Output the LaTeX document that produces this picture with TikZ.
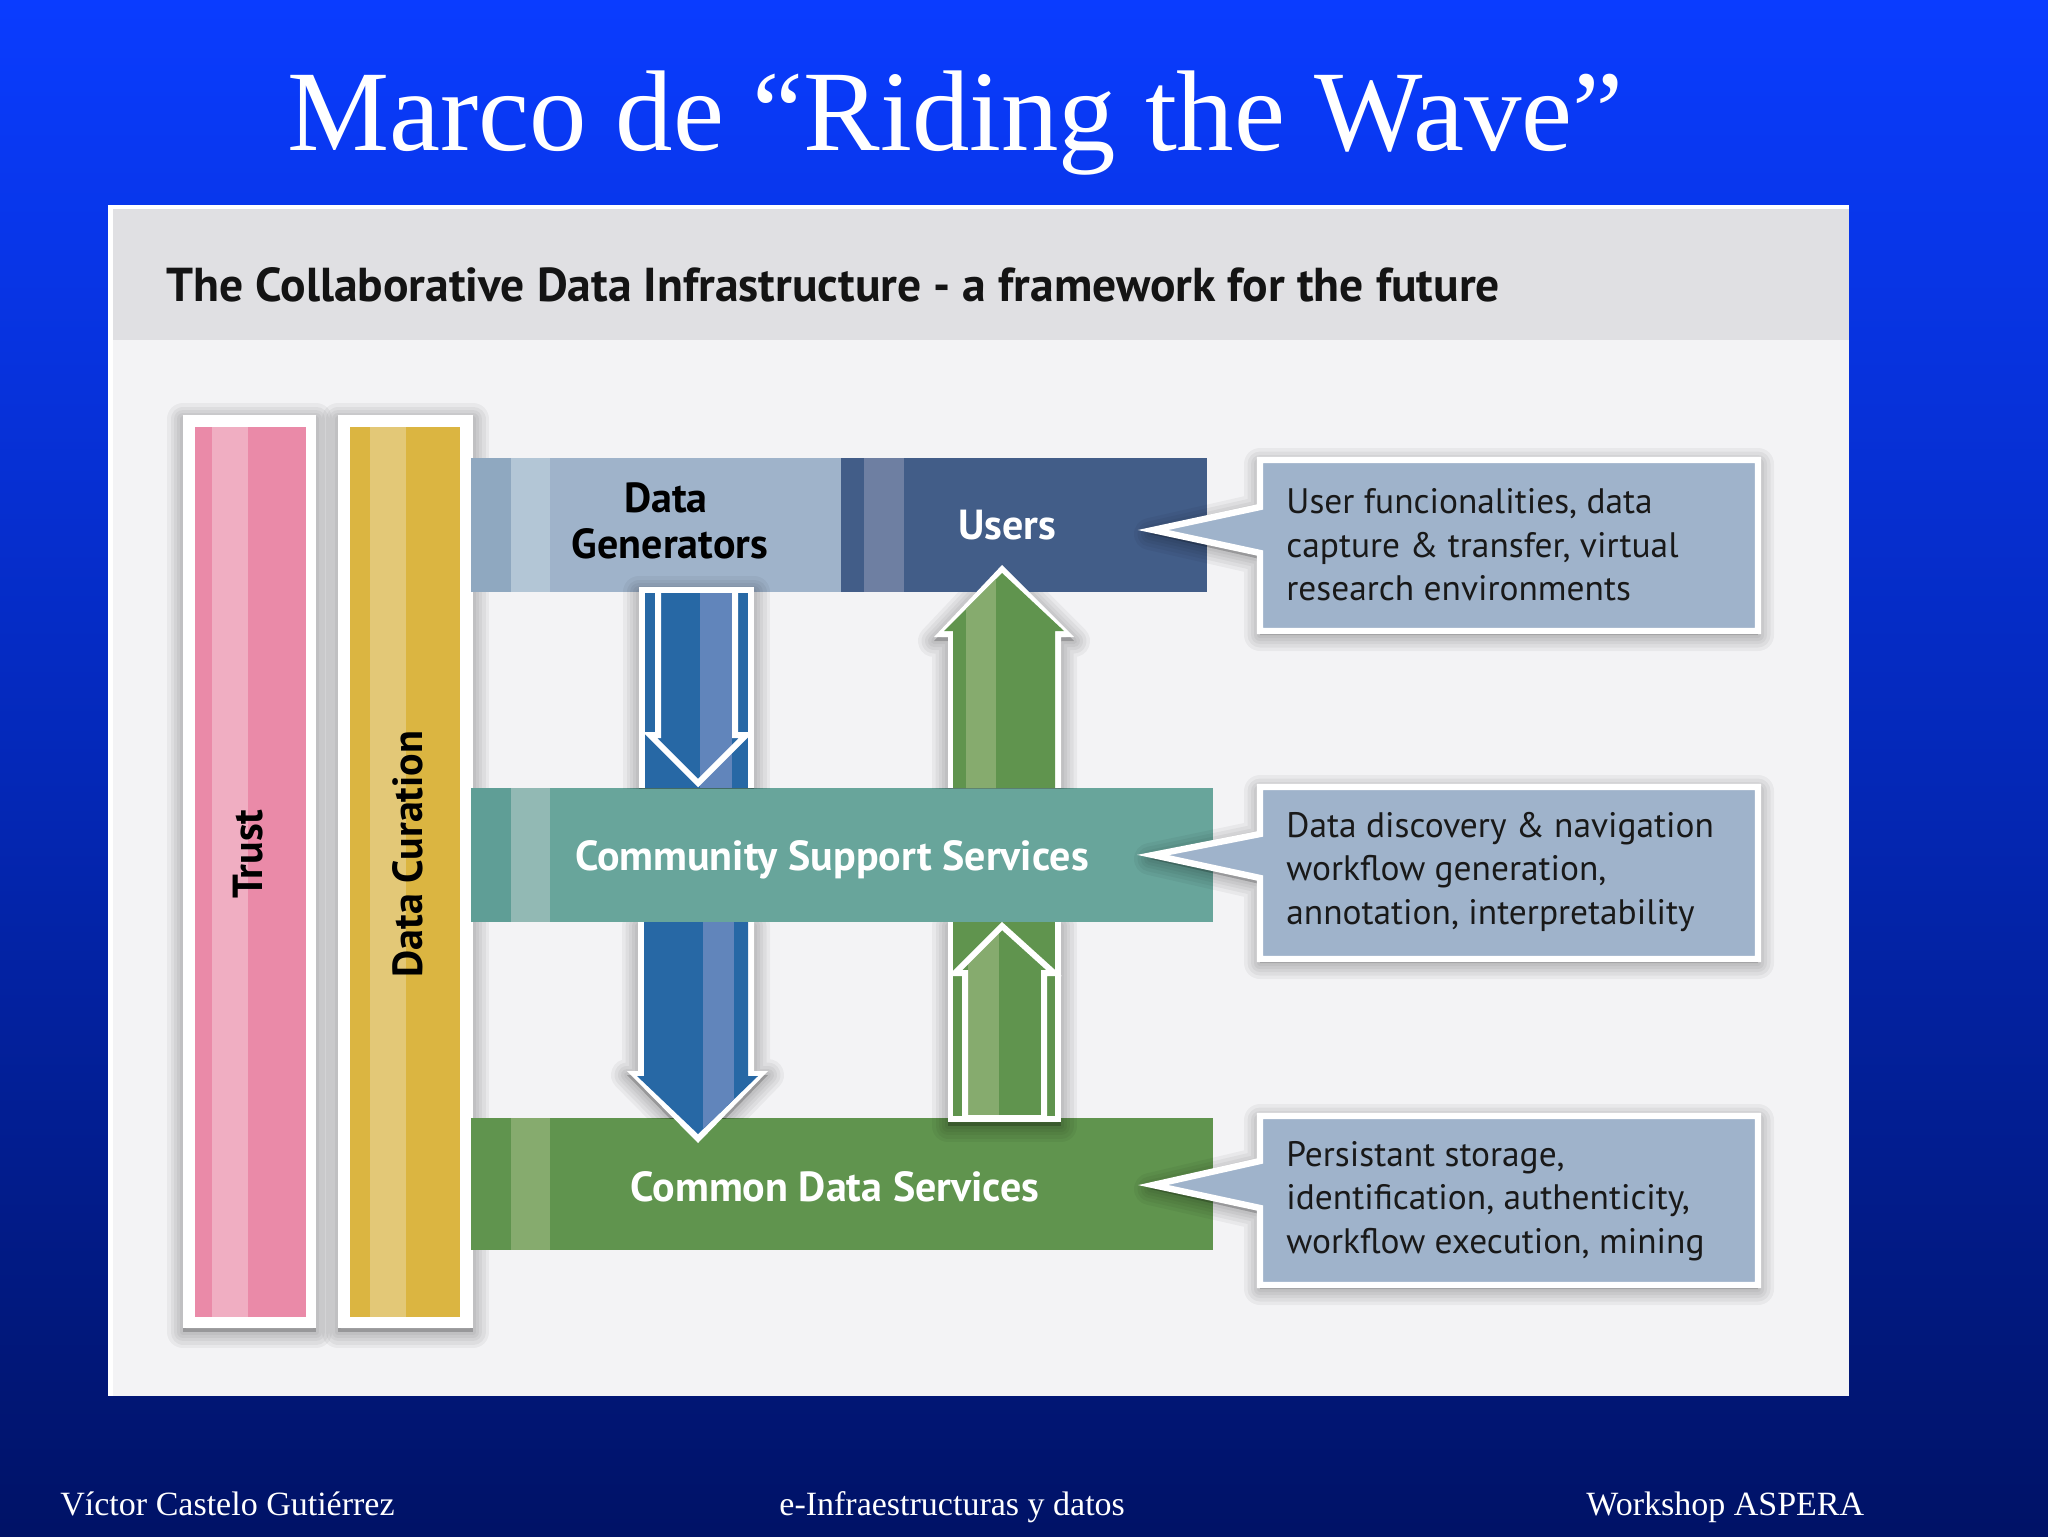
\documentclass[tikz,border=0pt]{standalone}
\usepackage{fontspec}
\setmainfont{Liberation Serif}
\setsansfont{PT Sans}
\definecolor{bgtop}{HTML}{0A3CFF}
\definecolor{bgmid}{HTML}{0428B8}
\definecolor{bgbot}{HTML}{001266}
\definecolor{panelbg}{HTML}{F3F3F5}
\definecolor{headbg}{HTML}{E0E0E3}
\definecolor{pinkA}{HTML}{EA8AA8}
\definecolor{pinkB}{HTML}{F0AEC2}
\definecolor{goldA}{HTML}{DBB541}
\definecolor{goldB}{HTML}{E3C877}
\definecolor{dgA}{HTML}{9FB3CA}
\definecolor{dgB}{HTML}{8FA8C0}
\definecolor{dgC}{HTML}{B3C6D6}
\definecolor{usA}{HTML}{425D88}
\definecolor{usC}{HTML}{6E7FA2}
\definecolor{csA}{HTML}{68A59B}
\definecolor{csB}{HTML}{5F9E96}
\definecolor{csC}{HTML}{92B9B4}
\definecolor{cdA}{HTML}{60944E}
\definecolor{cdC}{HTML}{86AB6E}
\definecolor{blueA}{HTML}{2768A5}
\definecolor{blueC}{HTML}{6185BB}
\definecolor{callbg}{HTML}{9FB3CB}
\tikzset{
  x=0.5pt,y=-0.5pt,
  bandbox/.style={rectangle,inner sep=0pt,outer sep=0pt,draw=none},
  bandtext/.style={font=\sffamily\bfseries\fontsize{21}{23}\selectfont,inner sep=0pt,text=white},
  darktext/.style={font=\sffamily\bfseries\fontsize{21}{23}\selectfont,inner sep=0pt,text=black},
  calltext/.style={font=\sffamily\fontsize{17.7}{21.8}\selectfont,inner sep=0pt,align=left,anchor=west,text=black!90},
  callshape/.style={draw=white,line width=3.2pt,fill=callbg,miter limit=10,line join=miter},
  footer/.style={font=\fontsize{17}{19}\selectfont,text=white,inner sep=0pt,anchor=base west},
}
\newcommand{\softpath}[1]{%
  \begin{scope}[yshift=-2pt]
  \foreach \w in {32,25,18,12,6}{\draw[black,opacity=.045,fill=black,line join=round,line width=\w*0.5pt] #1;}
  \end{scope}}
\newcommand{\bandnode}[6]{\node[bandbox,fill=#6,minimum width={(#4-#2)*0.5pt},minimum height={(#5-#3)*0.5pt},anchor=north west] (#1) at (#2,#3) {};}
\begin{document}
\begin{tikzpicture}
\useasboundingbox (0,0) rectangle (2048,1536);
\shade[top color=bgtop,bottom color=bgbot,middle color=bgmid] (0,0) rectangle (2048,1536);
% title
\node[font=\fontsize{57.4}{63}\selectfont,text=white,inner sep=0pt,anchor=base west] (title) at (287,150) {Marco de “Riding the Wave”};
% panel
\fill[white] (108,205) rectangle (1849,1396);
\fill[panelbg] (113,209) rectangle (1849,1396);
\fill[headbg] (113,209) rectangle (1849,340);
\node[font=\sffamily\bfseries\fontsize{23.8}{26}\selectfont,text=black!92,inner sep=0pt,anchor=base west] (head) at (166,301) {The Collaborative Data Infrastructure - a framework for the future};
% vertical bars
\softpath{(183,415) rectangle (316,1328)}
\softpath{(338,415) rectangle (473,1328)}
\bandnode{trustout}{183}{415}{316}{1328}{white}
\fill[pinkA] (195,427) rectangle (306,1317);
\fill[pinkB] (212,427) rectangle (248,1317);
\bandnode{curout}{338}{415}{473}{1328}{white}
\fill[goldA] (350,427) rectangle (460,1317);
\fill[goldB] (370,427) rectangle (406,1317);
\node[darktext,rotate=90] (trust) at (248,854) {Trust};
\node[darktext,rotate=90] (curation) at (408,854) {Data Curation};
% horizontal bands
\bandnode{dg}{471}{458}{841}{592}{dgA}
\fill[dgB] (471,458) rectangle (511,592);
\fill[dgC] (511,458) rectangle (550,592);
\bandnode{us}{841}{458}{1207}{592}{usA}
\fill[usC] (864,458) rectangle (904,592);
\bandnode{cs}{471}{788}{1213}{922}{csA}
\fill[csB] (471,788) rectangle (511,922);
\fill[csC] (511,788) rectangle (550,922);
\bandnode{cd}{471}{1118}{1213}{1250}{cdA}
\fill[cdC] (511,1118) rectangle (550,1250);
% labels in bands
\node[darktext,anchor=base] (dg1) at (666,512) {Data};
\node[darktext,anchor=base] (dg2) at (670,558) {Generators};
\node[bandtext,anchor=base] (usl) at (1007,539) {Users};
\node[bandtext,anchor=base] (csl) at (832,870) {Community Support Services};
\node[bandtext,anchor=base] (cdl) at (835,1201) {Common Data Services};
% blue arrow upper part
\begin{scope}
\clip (560,560) rectangle (830,788);
\softpath{(639,588) rectangle (754,788)}
\end{scope}
\fill[white] (639,588) rectangle (754,788);
\fill[blueA] (645,592) rectangle (748,788);
\fill[blueC] (700,592) rectangle (732,788);
\draw[white,line width=3pt,miter limit=10] (658,590) -- (658,735) -- (650,735) -- (698,783) -- (746,735) -- (735,735) -- (735,590);
\draw[white,line width=3pt] (639,590) -- (754,590);
% blue arrow lower part
\begin{scope}
\clip (580,922) rectangle (820,1118);
\softpath{(638,922) -- (638,1071) -- (627,1071) -- (698,1143) -- (768,1071) -- (754,1071) -- (754,922) -- cycle}
\end{scope}
\fill[white] (638,922) -- (638,1071) -- (627,1071) -- (698,1143) -- (768,1071) -- (754,1071) -- (754,922) -- cycle;
\begin{scope}
\clip (644,922) -- (644,1076) -- (637,1076) -- (698,1134) -- (758,1076) -- (748,1076) -- (748,922) -- cycle;
\fill[blueA] (620,922) rectangle (770,1140);
\fill[blueC] (703,922) rectangle (734,1140);
\end{scope}
% green arrow upper part
\begin{scope}
\clip (900,592) rectangle (1100,788);
\softpath{(948,788) -- (948,637) -- (934,637) -- (1002,565) -- (1074,637) -- (1061,637) -- (1061,788) -- cycle}
\end{scope}
\fill[white] (948,788) -- (948,637) -- (934,637) -- (1002,565) -- (1074,637) -- (1061,637) -- (1061,788) -- cycle;
\begin{scope}
\clip (953,788) -- (953,631) -- (944,631) -- (1002,573) -- (1064,631) -- (1055,631) -- (1055,788) -- cycle;
\fill[cdA] (930,560) rectangle (1080,790);
\fill[cdC] (966,560) rectangle (996,790);
\end{scope}
% green arrow lower part
\begin{scope}
\clip (900,922) rectangle (1110,1150);
\softpath{(948,922) rectangle (1061,1122)}
\end{scope}
\fill[white] (948,922) rectangle (1061,1122);
\fill[cdA] (953,922) rectangle (1055,1116);
\begin{scope}
\clip (965,1118) -- (965,973) -- (955,973) -- (1002,926) -- (1054,973) -- (1044,973) -- (1044,1118) -- cycle;
\fill[cdC] (968,920) rectangle (999,1116);
\end{scope}
\draw[white,line width=3pt,miter limit=10] (965,1118) -- (965,973) -- (955,973) -- (1002,926) -- (1054,973) -- (1044,973) -- (1044,1118) -- cycle;
% callouts
\softpath{(1260,460) -- (1260,505) -- (1150,530) -- (1260,555) -- (1260,631) -- (1758,631) -- (1758,460) -- cycle}
\draw[callshape] (1260,460) -- (1260,507) -- (1153,530) -- (1260,553) -- (1260,631) -- (1758,631) -- (1758,460) -- cycle;
\node[calltext] (c1) at (1286,545) {User funcionalities, data\\capture \& transfer, virtual\\research environments};
\softpath{(1260,787) -- (1260,832) -- (1150,855) -- (1260,880) -- (1260,959) -- (1758,959) -- (1758,787) -- cycle}
\draw[callshape] (1260,787) -- (1260,834) -- (1153,855) -- (1260,878) -- (1260,959) -- (1758,959) -- (1758,787) -- cycle;
\node[calltext] (c2) at (1286,872) {Data discovery \& navigation\\workflow generation,\\annotation, interpretability};
\softpath{(1260,1116) -- (1260,1159) -- (1150,1185) -- (1260,1210) -- (1260,1285) -- (1758,1285) -- (1758,1116) -- cycle}
\draw[callshape] (1260,1116) -- (1260,1161) -- (1153,1185) -- (1260,1208) -- (1260,1285) -- (1758,1285) -- (1758,1116) -- cycle;
\node[calltext] (c3) at (1286,1201) {Persistant storage,\\identification, authenticity,\\workflow execution, mining};
% footer
\node[footer] (f1) at (60,1515) {Víctor Castelo Gutiérrez};
\node[footer] (f2) at (779,1515) {e-Infraestructuras y datos};
\node[footer] (f3) at (1586,1515) {Workshop ASPERA};
\end{tikzpicture}
\end{document}
